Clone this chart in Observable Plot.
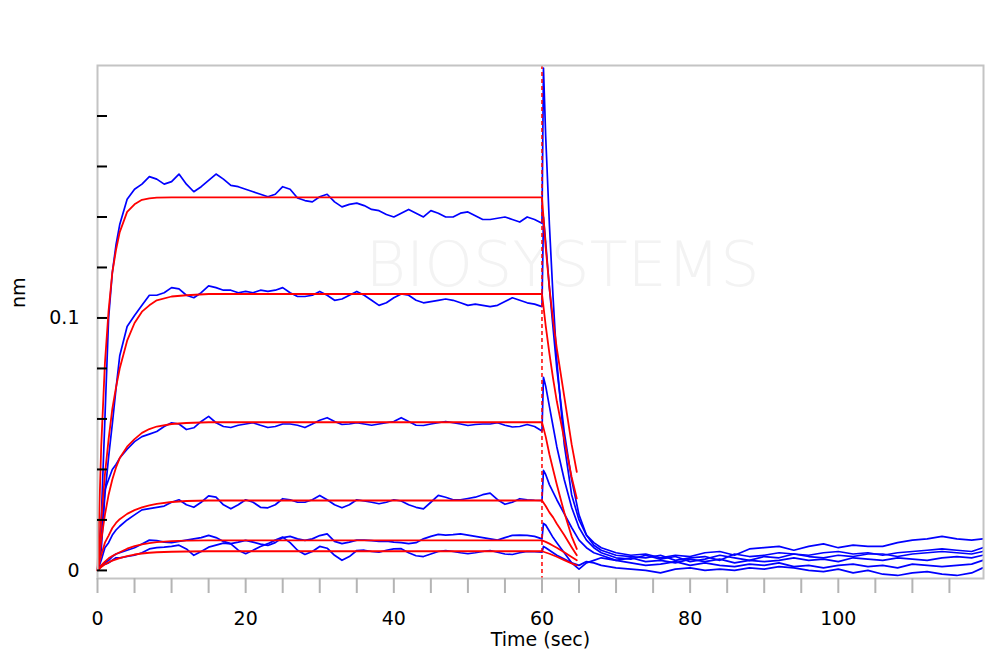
<!DOCTYPE html>
<html>
<head>
<meta charset="utf-8">
<script src="https://cdn.jsdelivr.net/npm/d3@7"></script>
<script src="https://cdn.jsdelivr.net/npm/@observablehq/plot@0.6"></script>
<style>
  html, body { margin: 0; padding: 0; background: #fff; }
  #chart { width: 1000px; height: 669px; }
</style>
</head>
<body>
<div id="chart"></div>
<script>
// ---------- time grids (sec) ----------
const blueTimes = [
  0, 0.5, 1, 1.5, 2, 2.5, 3,
  4, 5, 6, 7, 8, 9, 10, 11, 12, 13, 14, 15, 16, 17, 18, 19, 20, 21, 22, 23, 24, 25, 26, 27, 28, 29, 30,
  31, 32, 33, 34, 35, 36, 37, 38, 39, 40, 41, 42, 43, 44, 45, 46, 47, 48, 49, 50, 51, 52, 53, 54, 55, 56, 57, 58, 59, 60,
  60.2, 60.5, 61, 61.5, 62, 63, 64, 65, 66, 67, 68,
  70, 72, 74, 76, 78, 80, 82, 84, 86, 88, 90, 92, 94, 96, 98, 100, 102, 104, 106, 108, 110, 112, 114, 116, 118, 119.5
];
const fitTimes = [0, 0.5, 1, 1.5, 2, 2.5, 3, 4, 5, 6, 7, 8, 10, 12, 15, 20, 30, 40, 50, 60,
  60.5, 61, 61.5, 62, 63, 64, 64.7];

// ---------- measured responses (nm), blue ----------
const blue1 = [
  0, 0.02, 0.06, 0.100, 0.118, 0.129, 0.137,
  0.147, 0.151, 0.153, 0.156, 0.155, 0.153, 0.154, 0.157, 0.153, 0.150, 0.152, 0.1545, 0.157, 0.155, 0.1525, 0.152, 0.151, 0.150, 0.149, 0.148, 0.149, 0.152, 0.151, 0.1475, 0.1465, 0.146, 0.148,
  0.149, 0.146, 0.144, 0.145, 0.1455, 0.1445, 0.143, 0.1425, 0.141, 0.140, 0.1415, 0.143, 0.1415, 0.140, 0.1425, 0.1415, 0.140, 0.140, 0.1415, 0.142, 0.1405, 0.139, 0.139, 0.1395, 0.140, 0.139, 0.138, 0.140, 0.139, 0.1375,
  0.199, 0.172, 0.137, 0.108, 0.083, 0.050, 0.030, 0.020, 0.014, 0.011, 0.009,
  0.007, 0.006, 0.0065, 0.005, 0.006, 0.0055, 0.007, 0.0075, 0.006, 0.0085, 0.009, 0.0095, 0.008, 0.0095, 0.0105, 0.009, 0.010, 0.0095, 0.0095, 0.011, 0.012, 0.0125, 0.0135, 0.0125, 0.012, 0.0125
];
const blue2 = [
  0, 0.008, 0.03, 0.045, 0.058, 0.072, 0.085,
  0.0966, 0.101, 0.105, 0.109, 0.109, 0.110, 0.112, 0.1115, 0.109, 0.108, 0.110, 0.1127, 0.112, 0.111, 0.111, 0.110, 0.1105, 0.110, 0.111, 0.1105, 0.111, 0.112, 0.110, 0.1085, 0.1085, 0.109, 0.1105,
  0.109, 0.107, 0.1075, 0.109, 0.1105, 0.109, 0.107, 0.105, 0.106, 0.108, 0.1095, 0.109, 0.107, 0.106, 0.1065, 0.107, 0.1075, 0.107, 0.106, 0.105, 0.1055, 0.105, 0.1045, 0.105, 0.1065, 0.108, 0.107, 0.106, 0.1055, 0.1045,
  0.140, 0.130, 0.112, 0.096, 0.080, 0.055, 0.036, 0.022, 0.014, 0.010, 0.008,
  0.006, 0.0055, 0.005, 0.006, 0.004, 0.005, 0.0055, 0.004, 0.0065, 0.0055, 0.006, 0.007, 0.0065, 0.006, 0.007, 0.0075, 0.0065, 0.007, 0.006, 0.007, 0.0075, 0.008, 0.0085, 0.008, 0.0075, 0.009
];
const blue3 = [
  0, 0.012, 0.032, 0.036, 0.040, 0.042, 0.0445,
  0.048, 0.051, 0.053, 0.054, 0.055, 0.057, 0.0585, 0.058, 0.0558, 0.0565, 0.059, 0.061, 0.0585, 0.057, 0.0566, 0.0575, 0.058, 0.0585, 0.0575, 0.0566, 0.057, 0.058, 0.058, 0.0575, 0.0566, 0.058, 0.0595,
  0.0605, 0.059, 0.0578, 0.058, 0.0585, 0.058, 0.0575, 0.058, 0.0585, 0.059, 0.0605, 0.059, 0.0575, 0.0574, 0.058, 0.0585, 0.059, 0.0585, 0.058, 0.0574, 0.0578, 0.058, 0.058, 0.0585, 0.0575, 0.0568, 0.057, 0.0578, 0.057, 0.0552,
  0.0765, 0.073, 0.065, 0.057, 0.049, 0.036, 0.025, 0.017, 0.012, 0.009, 0.007,
  0.005, 0.0045, 0.006, 0.0045, 0.0055, 0.0035, 0.0045, 0.006, 0.005, 0.004, 0.0055, 0.005, 0.0065, 0.0055, 0.005, 0.006, 0.0055, 0.0065, 0.0065, 0.0055, 0.0065, 0.007, 0.0075, 0.007, 0.0065, 0.0075
];
const blue4 = [
  0, 0.004, 0.009, 0.011, 0.014, 0.016, 0.0175,
  0.020, 0.022, 0.024, 0.0245, 0.025, 0.0255, 0.027, 0.028, 0.026, 0.025, 0.027, 0.0295, 0.029, 0.026, 0.0244, 0.026, 0.028, 0.027, 0.025, 0.0248, 0.026, 0.0284, 0.028, 0.027, 0.027, 0.028, 0.0297,
  0.028, 0.026, 0.0248, 0.026, 0.028, 0.0275, 0.027, 0.0264, 0.027, 0.028, 0.0275, 0.026, 0.025, 0.0244, 0.027, 0.0297, 0.029, 0.028, 0.028, 0.0285, 0.029, 0.030, 0.0306, 0.028, 0.0262, 0.027, 0.0284, 0.028, 0.0278, 0.0277,
  0.0396, 0.038, 0.034, 0.031, 0.028, 0.0225, 0.017, 0.012, 0.009, 0.007, 0.006,
  0.004, 0.005, 0.0035, 0.004, 0.003, 0.0045, 0.0035, 0.0045, 0.003, 0.004, 0.0035, 0.004, 0.005, 0.004, 0.0045, 0.0035, 0.005, 0.0045, 0.004, 0.005, 0.0045, 0.004, 0.005, 0.0055, 0.005, 0.006
];
const blue5 = [
  0, 0.002, 0.003, 0.004, 0.0055, 0.0065, 0.007,
  0.008, 0.009, 0.0105, 0.012, 0.0118, 0.0112, 0.011, 0.0115, 0.012, 0.0125, 0.013, 0.0139, 0.013, 0.0115, 0.0106, 0.0112, 0.0119, 0.0112, 0.0104, 0.0099, 0.011, 0.013, 0.0135, 0.0125, 0.0119, 0.0125, 0.0138,
  0.0145, 0.0115, 0.0106, 0.0112, 0.012, 0.012, 0.0118, 0.0115, 0.0116, 0.0112, 0.011, 0.0106, 0.011, 0.0125, 0.0135, 0.0143, 0.014, 0.0142, 0.0145, 0.014, 0.0135, 0.013, 0.0125, 0.012, 0.013, 0.0139, 0.014, 0.0139, 0.0135, 0.0125,
  0.0186, 0.018, 0.0155, 0.013, 0.011, 0.007, 0.003, 0.0005, 0.003, 0.004, 0.005,
  0.004, 0.003, 0.002, 0.0025, 0.0035, 0.002, 0.003, 0.002, 0.0015, 0.0025, 0.002, 0.003, 0.0015, 0.002, 0.001, 0.002, 0.0025, 0.0015, 0.002, 0.001, 0.0025, 0.002, 0.0015, 0.002, 0.0025, 0.004
];
const blue6 = [
  0, 0.0015, 0.0025, 0.003, 0.004, 0.005, 0.005,
  0.0055, 0.006, 0.007, 0.0085, 0.009, 0.0092, 0.0095, 0.010, 0.0085, 0.006, 0.0075, 0.0092, 0.0100, 0.0108, 0.0105, 0.008, 0.0066, 0.008, 0.0095, 0.0106, 0.012, 0.0132, 0.011, 0.008, 0.0063, 0.0075, 0.0095,
  0.0088, 0.006, 0.004, 0.0055, 0.0079, 0.008, 0.0075, 0.0072, 0.008, 0.0085, 0.0086, 0.007, 0.0058, 0.0055, 0.0065, 0.0075, 0.0079, 0.0075, 0.007, 0.0066, 0.007, 0.0075, 0.0079, 0.0072, 0.0065, 0.0063, 0.007, 0.0075, 0.0074, 0.0072,
  0.0095, 0.009, 0.008, 0.007, 0.006, 0.0045, 0.003, 0.002, 0.0035, 0.003, 0.002,
  0.001, 0.0005, 0.0, -0.001, 0.0005, 0.001, 0.0, 0.0005, 0.0, 0.001, 0.0005, 0.0015, 0.001, 0.0, -0.0005, 0.0005, -0.001, 0.0, -0.0015, -0.002, -0.001, -0.0005, -0.0015, -0.002, -0.001, 0.001
];

// ---------- fitted curves (nm), red ----------
const fit1 = [0, 0.049, 0.082, 0.103, 0.118, 0.127, 0.134, 0.142, 0.145, 0.1468, 0.1474, 0.1477, 0.1478, 0.1478, 0.1478, 0.1478, 0.1478, 0.1478, 0.1478, 0.1478,
  0.128, 0.112, 0.099, 0.088, 0.069, 0.050, 0.039];
const fit2 = [0, 0.02, 0.038, 0.052, 0.064, 0.0725, 0.080, 0.091, 0.098, 0.1025, 0.105, 0.107, 0.1085, 0.109, 0.1095, 0.1095, 0.1095, 0.1095, 0.1095, 0.1095,
  0.097, 0.086, 0.076, 0.067, 0.052, 0.037, 0.0285];
const fit3 = [0, 0.012, 0.022, 0.030, 0.036, 0.0408, 0.0445, 0.049, 0.052, 0.0545, 0.056, 0.057, 0.058, 0.0584, 0.0587, 0.0587, 0.0587, 0.0587, 0.0587, 0.0587,
  0.053, 0.046, 0.040, 0.034, 0.023, 0.0135, 0.0085];
const fit4 = [0, 0.006, 0.011, 0.0138, 0.0168, 0.0188, 0.0203, 0.0224, 0.0239, 0.025, 0.0258, 0.0264, 0.0271, 0.0275, 0.0277, 0.0277, 0.0277, 0.0277, 0.0277, 0.0277,
  0.0255, 0.023, 0.021, 0.0185, 0.014, 0.0092, 0.006];
const fit5 = [0, 0.002, 0.0035, 0.0048, 0.0057, 0.0065, 0.0072, 0.0086, 0.0096, 0.0103, 0.0108, 0.0112, 0.0116, 0.0118, 0.0119, 0.0119, 0.0119, 0.0119, 0.0119, 0.0119,
  0.0113, 0.0106, 0.0098, 0.009, 0.0072, 0.0053, 0.004];
const fit6 = [0, 0.0013, 0.0024, 0.0032, 0.0039, 0.0044, 0.0049, 0.0057, 0.0063, 0.0067, 0.007, 0.0072, 0.0074, 0.0075, 0.0076, 0.0076, 0.0076, 0.0076, 0.0076, 0.0076,
  0.0071, 0.0066, 0.006, 0.0054, 0.0041, 0.0028, 0.002];

// ---------- axis ticks ----------
const xMinorTicks = [0, 5, 10, 15, 20, 25, 30, 35, 40, 45, 50, 55, 60, 65, 70, 75, 80, 85, 90, 95, 100, 105, 110, 115];
const xLabelTicks = [0, 20, 40, 60, 80, 100];
const yMinorTicks = [0, 0.02, 0.04, 0.06, 0.08, 0.1, 0.12, 0.14, 0.16, 0.18];
const yLabelTicks = [0, 0.1];
const yLabels = ["0", "0.1"];
const stepTime = [60];

// ---------- build tables ----------
const blueSeries = [blue1, blue2, blue3, blue4, blue5, blue6];
const fitSeries = [fit1, fit2, fit3, fit4, fit5, fit6];
const blueData = blueSeries.flatMap((vals, i) => vals.map((v, j) => ({t: blueTimes[j], v, id: "b" + i})));
const fitData = fitSeries.flatMap((vals, i) => vals.map((v, j) => ({t: fitTimes[j], v, id: "f" + i})));

const font = "DejaVu Sans, Verdana, sans-serif";

const chart = Plot.plot({
  width: 1000,
  height: 669,
  marginLeft: 97,
  marginRight: 17,
  marginTop: 65,
  marginBottom: 91,
  style: {fontFamily: font, fontSize: "19px", color: "#000", background: "#fff"},
  x: {domain: [0, 119.6]},
  y: {domain: [-0.0032, 0.2]},
  marks: [
    Plot.text(["BIOSYSTEMS"], {frameAnchor: "top", dx: 22, dy: 176, fontSize: 62, fill: "#f3f3f3", fontWeight: 300}),
    Plot.line(blueData, {x: "t", y: "v", z: "id", stroke: "#0000ff", strokeWidth: 1.7}),
    Plot.line(fitData, {x: "t", y: "v", z: "id", stroke: "#ff0000", strokeWidth: 1.8}),
    Plot.ruleX(stepTime, {stroke: "#ff0000", strokeWidth: 1.5, strokeDasharray: "4,3"}),
    Plot.frame({stroke: "#c4c4c4", strokeWidth: 2}),
    Plot.axisY({ticks: yMinorTicks, tickSize: -10, tickFormat: () => "", stroke: "#000", strokeWidth: 2, label: null}),
    Plot.axisY({ticks: yLabelTicks, tickSize: 0, tickPadding: 18, tickFormat: d => yLabels[yLabelTicks.indexOf(d)], label: null}),
    Plot.axisX({ticks: xMinorTicks, tickSize: 15, tickFormat: () => "", stroke: "#b4b4b4", strokeWidth: 2, label: null}),
    Plot.axisX({ticks: xLabelTicks, tickSize: 0, tickPadding: 33, tickFormat: d => String(d), label: null}),
    Plot.text(["Time (sec)"], {frameAnchor: "bottom", dy: 67, fontSize: 19, fill: "#000"}),
    Plot.text(["nm"], {frameAnchor: "left", dx: -79, dy: -14, rotate: -90, fontSize: 19, fill: "#000"})
  ]
});
document.getElementById("chart").appendChild(chart);
</script>
</body>
</html>
